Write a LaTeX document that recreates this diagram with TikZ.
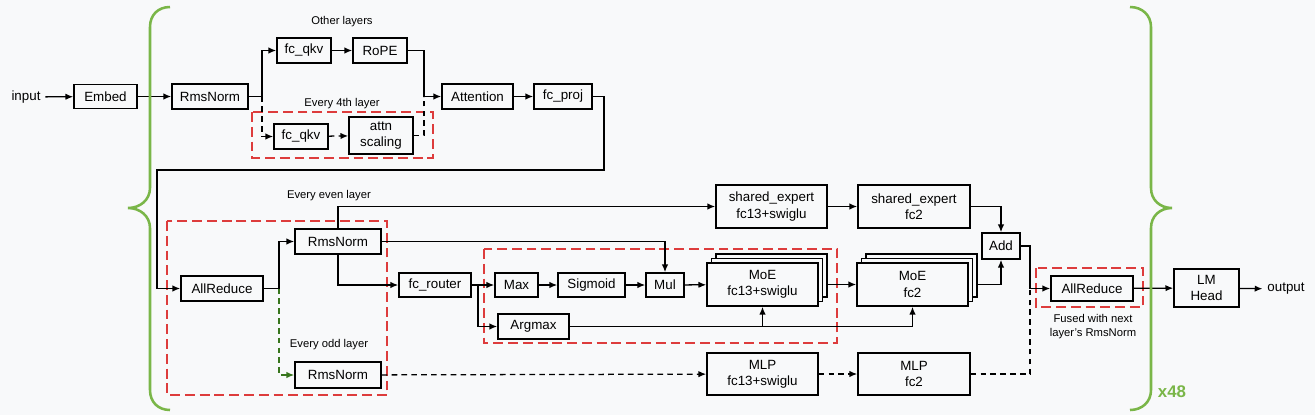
\documentclass[tikz,border=0pt]{standalone}
\usepackage{fontspec}
\setmainfont{Liberation Sans}
\usetikzlibrary{arrows.meta}
\definecolor{bgcol}{HTML}{F8F9FA}
\definecolor{groupred}{RGB}{221,60,60}
\definecolor{bracegreen}{HTML}{7AB648}
\definecolor{oddgreen}{HTML}{38761D}

\begin{document}
\begin{tikzpicture}[x=0.025cm, y=-0.025cm,
      >={Latex[length=5.5pt,width=4.5pt]},
      block/.style={draw, rectangle, line width=1.1pt, fill=bgcol, minimum height=0.625cm, inner sep=0pt, align=center, font=\fontsize{9.5}{11.5}\selectfont},
      tall/.style={block, minimum width=2.775cm, minimum height=1.075cm}, % MoE, MLP, shared_expert
      note/.style={align=center, font=\fontsize{8}{10}\selectfont},
      link/.style={line width=0.9pt},
      dlink/.style={link, dash pattern=on 4pt off 3pt},
      redgroup/.style={draw=groupred, line width=1pt, dash pattern=on 7pt off 3.5pt},
      brace/.style={draw=bracegreen, line width=1.8pt}
    ]
    \fill[bgcol] (0,0) rectangle (1315,415);
    \useasboundingbox (0,0) rectangle (1315,415);

    % Groups
    \draw[redgroup] (252,112) rectangle (433,158);
    \draw[redgroup] (167,221) rectangle (387,395);
    \draw[redgroup] (484,249) rectangle (837,343);
    \draw[redgroup] (1036,268) rectangle (1143,307);

    % Attention part
    \node[font=\fontsize{9.5}{11.5}\selectfont] (input) at (26,97) {input};
    \node[block, minimum width=1.575cm, minimum height=0.6cm] (embed) at (105.5,96.5) {Embed};
    \node[block, minimum width=1.9cm] (rms1) at (210,96.5) {RmsNorm};
    \node[block, minimum width=1.35cm] (qkv1) at (304,50.5) {fc\_qkv};
    \node[block, minimum width=1.35cm] (rope) at (380,50.5) {RoPE};
    \node[block, minimum width=1.35cm] (qkv2) at (301,136.5) {fc\_qkv};
    \node[block, minimum width=1.6cm, minimum height=0.925cm] (scal) at (381,135.5) {attn\\scaling};
    \node[block, minimum width=1.775cm] (attn) at (477.5,96.5) {Attention};
    \node[block, minimum width=1.45cm] (proj) at (563,96.5) {fc\_proj};
    \node[note] (lblother) at (342,22) {Other layers};
    \node[note] (lblfourth) at (342,104) {Every 4th layer};

    % Norm and router
    \node[block, minimum width=2.05cm] (ar1) at (222,288.5) {AllReduce};
    \node[block, minimum width=2.15cm] (rms2) at (338,241.5) {RmsNorm};
    \node[block, minimum width=2.15cm, minimum height=0.65cm] (rms3) at (338,375) {RmsNorm};
    \node[note] (lbleven) at (329,196) {Every even layer};
    \node[note] (lblodd) at (329,345) {Every odd layer};
    \node[block, minimum width=1.8cm, minimum height=0.6cm] (router) at (435,285) {fc\_router};
    \node[block, minimum width=1.075cm, minimum height=0.6cm] (max) at (516.5,285) {Max};
    \node[block, minimum width=1.675cm, minimum height=0.6cm] (sig) at (591.5,285) {Sigmoid};
    \node[block, minimum width=0.95cm, minimum height=0.6cm] (mul) at (665,285) {Mul};
    \node[block, minimum width=1.775cm] (argmax) at (533.5,326.5) {Argmax};

    % Experts
    \node[tall] (se1) at (771.5,206.5) {shared\_expert\\fc13+swiglu};
    \node[tall, minimum width=2.8cm] (se2) at (914,206.5) {shared\_expert\\fc2};
    \node[tall] (moe1c) at (771.5,275.5) {};
    \node[tall] (moe1b) at (767,280) {};
    \node[tall] (moe1) at (762.5,284.5) {MoE\\fc13+swiglu};
    \node[tall] (moe2c) at (921.5,275.5) {};
    \node[tall] (moe2b) at (917,280) {};
    \node[tall] (moe2) at (912.5,284.5) {MoE\\fc2};
    \node[tall, minimum height=1.05cm] (mlp1) at (762.5,374) {MLP\\fc13+swiglu};
    \node[tall, minimum width=2.8cm, minimum height=1.05cm] (mlp2) at (914,374) {MLP\\fc2};
    \node[block, minimum width=0.95cm, minimum height=0.65cm] (add) at (1001,246) {Add};

    % Output part
    \node[block, minimum width=2.05cm] (ar2) at (1092,288.5) {AllReduce};
    \node[note] (lblfused) at (1093,326.5) {Fused with next\\layer's RmsNorm};
    \node[block, minimum width=1.625cm, minimum height=0.95cm] (lm) at (1206.5,288) {LM\\Head};
    \node[font=\fontsize{9.5}{11.5}\selectfont] (output) at (1286,289) {output};
    \node[text=bracegreen, font=\fontsize{12}{14}\selectfont\bfseries] (times) at (1172,392) {x48};

    % Split points
    \coordinate (split1) at (262,96.5);
    \coordinate (join1) at (424,96.5);
    \coordinate (split2) at (279,288.5);
    \coordinate (split3) at (478,285);
    \coordinate (join2) at (1030,288.5);

    % Connectors
    \draw[link,->] (input) -- (embed);
    \draw[link,->] (embed) -- (rms1);
    \draw[link,->] (rms1.east) -- (split1) |- (qkv1.west);
    \draw[dlink,->] (split1) |- (qkv2.west);
    \draw[link,->] (qkv1) -- (rope);
    \draw[dlink,->] (qkv2) -- (scal);
    \draw[link] (rope.east) -| (join1);
    \draw[dlink] (scal.east) -| (join1);
    \draw[link,->] (join1) -- (attn.west);
    \draw[link,->] (attn) -- (proj);
    \draw[link,->] (proj.east) -| (604,170) -| (157,288.5) -- (ar1.west);
    \draw[link,->] (ar1.east) -- (split2) |- (rms2.west);
    \draw[dlink,draw=oddgreen,->] (split2) |- (rms3.west);
    \draw[link,->] (rms2.north) |- (se1.west);
    \draw[link,->] (rms2.east) -| (mul.north);
    \draw[link,->] (rms2.south) |- (router.west);
    \draw[link,->] (router) -- (max);
    \draw[link,->] (split3) |- (argmax.west);
    \draw[link,->] (max) -- (sig);
    \draw[link,->] (sig) -- (mul);
    \draw[link,->] (mul) -- (moe1);
    \draw[link,->] (argmax.east) -| (moe2.south);
    \draw[link,->] (moe1.south |- argmax.east) -- (moe1.south);
    \draw[link,->] (moe1c.east |- moe1.east) -- (moe2.west);
    \draw[link,->] (se1) -- (se2);
    \draw[link,->] (se2.east) -| (add.north);
    \draw[link,->] (moe2c.east |- moe2.east) -| (add.south);
    \draw[link] (add.east) -| (join2);
    \draw[link,->] (join2) -- (ar2.west);
    \draw[dlink,->] (rms3) -- (mlp1);
    \draw[dlink,->] (mlp1) -- (mlp2);
    \draw[dlink] (mlp2.east) -| (join2);
    \draw[link,->] (ar2) -- (lm);
    \draw[link,->] (lm) -- (output);

    % Braces
    \draw[brace] (170,7) .. controls (158,7) and (150,15) .. (150,27) -- (150,188)
      .. controls (150,200) and (140,208) .. (128,208) .. controls (140,208) and (150,216) .. (150,228)
      -- (150,390) .. controls (150,402) and (158,410) .. (170,410);
    \draw[brace] (1130,7) .. controls (1142,7) and (1151,15) .. (1151,27) -- (1151,188)
      .. controls (1151,200) and (1160,208) .. (1172,208) .. controls (1160,208) and (1151,216) .. (1151,228)
      -- (1151,390) .. controls (1151,402) and (1142,410) .. (1130,410);
    \end{tikzpicture}
\end{document}
